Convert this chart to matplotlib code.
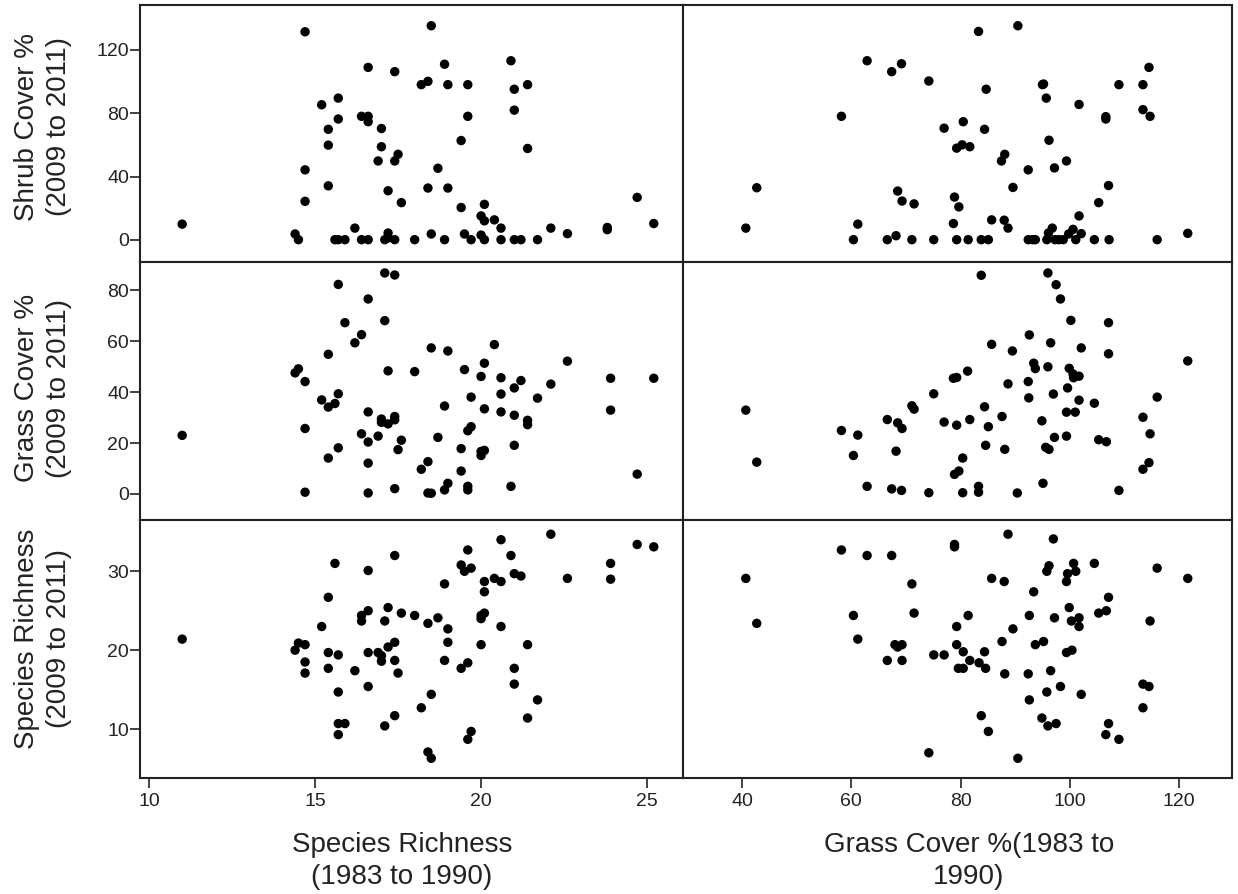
import matplotlib
matplotlib.use("Agg")
import matplotlib.pyplot as plt

plt.rcParams["font.family"] = ["Liberation Sans", "DejaVu Sans"]

# Shrub cover (2009-2011) vs species richness (1983-1990)
shrub_rich_x = [11.0, 14.7, 18.5, 20.9, 16.6, 17.4, 18.9, 18.2, 18.4, 19.0,
                19.6, 21.4, 21.0, 21.0, 15.2, 15.7, 15.7, 16.4, 16.6, 16.6,
                19.6, 15.4, 17.0, 15.4, 17.0, 19.4, 21.4, 17.5, 17.4, 16.9,
                14.7, 18.7, 15.4, 18.4, 19.0, 17.2, 14.7, 17.6, 19.4, 20.1,
                20.0, 20.1, 20.4, 20.6, 16.2, 24.7, 25.2, 23.8, 23.8, 22.1,
                22.6, 14.4, 14.5, 15.6, 15.7, 15.9, 16.4, 16.6, 17.1, 17.2,
                17.2, 17.4, 18.0, 18.5, 18.9, 19.5, 19.7, 20.0, 20.1, 20.6,
                21.0, 21.2, 21.7]
shrub_rich_y = [10.0, 131.5, 135.3, 113.2, 109.0, 106.3, 111.0, 98.1, 100.2, 98.1,
                98.1, 98.1, 95.2, 82.0, 85.4, 89.6, 76.4, 78.1, 78.1, 74.7,
                78.1, 69.9, 70.4, 59.9, 58.9, 62.8, 57.8, 54.1, 49.9, 49.9,
                44.3, 45.3, 34.2, 32.8, 32.8, 31.1, 24.4, 23.6, 20.5, 22.5,
                15.2, 12.1, 12.7, 7.5, 7.5, 26.9, 10.4, 7.9, 6.5, 7.5,
                4.0, 3.8, 0.2, 0.2, 0.2, 0.2, 0.2, 0.2, 0.2, 4.4,
                1.3, 0.2, 0.2, 3.8, 0.2, 3.8, 0.2, 3.1, 0.2, 0.2,
                0.2, 0.2, 0.2]

# Shrub cover (2009-2011) vs grass cover (1983-1990)
shrub_grass_x = [90.5, 83.3, 62.9, 69.2, 67.4, 74.2, 114.5, 84.7, 95.0, 95.2,
                 109.0, 113.4, 95.7, 101.7, 113.4, 114.7, 106.6, 106.6, 58.2, 80.5,
                 77.0, 84.4, 96.2, 79.3, 80.3, 81.7, 88.1, 87.5, 99.4, 97.2,
                 92.4, 89.6, 107.1, 42.7, 68.5, 69.3, 71.5, 78.9, 79.7, 105.3,
                 101.7, 40.7, 61.2, 78.7, 85.7, 88.0, 88.7, 96.8, 96.1, 100.6,
                 102.1, 99.8, 68.2, 121.6,
                 60.4, 66.6, 71.1, 75.1, 79.3, 81.4, 83.8, 85.1, 92.4, 93.2,
                 93.7, 95.8, 97.3, 98.0, 98.8, 101.1, 104.5, 107.2, 116.0]
shrub_grass_y = [135.3, 131.7, 113.2, 111.3, 106.3, 100.4, 109.0, 95.2, 98.1, 98.5,
                 98.1, 98.1, 89.6, 85.6, 82.3, 78.1, 77.9, 76.4, 78.1, 74.7,
                 70.6, 69.9, 63.0, 58.0, 60.1, 58.9, 54.1, 49.9, 49.9, 45.5,
                 44.3, 33.2, 34.4, 33.0, 30.9, 24.6, 22.8, 27.1, 20.9, 23.6,
                 15.2, 7.5, 10.0, 10.4, 12.7, 12.5, 7.5, 7.5, 4.4, 6.7,
                 4.0, 3.8, 2.7, 4.2,
                 0.2, 0.2, 0.2, 0.2, 0.2, 0.2, 0.2, 0.2, 0.2, 0.2,
                 0.2, 0.2, 0.2, 0.2, 0.2, 0.2, 0.2, 0.2, 0.2]

# Grass cover (2009-2011) vs species richness (1983-1990)
grass_rich_x = [11.0, 17.1, 17.4, 15.7, 16.6, 17.1, 15.9, 16.4, 16.2, 15.4,
                18.5, 19.0, 20.4, 20.1, 22.6, 14.4, 14.5, 17.2, 18.0, 19.5,
                14.7, 20.0, 20.6, 21.2, 23.9, 25.2, 22.1, 21.0, 15.7, 20.6,
                19.7, 21.7, 15.2, 15.4, 15.6, 18.9, 20.1, 20.6, 23.9, 16.6,
                21.0, 21.4, 21.4, 17.4, 17.4, 17.0, 17.0, 17.2, 19.7, 19.6,
                14.7, 16.4, 16.9, 18.7, 17.6, 16.6, 21.0, 15.7, 17.5, 19.4,
                20.0, 20.1, 20.0, 15.4, 16.6, 18.4, 18.2, 19.4, 24.7, 19.0,
                18.9, 19.6, 19.6, 20.9, 17.4, 14.7, 16.6, 18.4, 18.5]
grass_rich_y = [23.0, 86.7, 85.9, 82.2, 76.5, 68.0, 67.2, 62.5, 59.3, 54.8,
                57.3, 56.1, 58.6, 51.3, 52.1, 47.5, 49.1, 48.3, 48.0, 48.8,
                44.1, 46.1, 45.6, 44.5, 45.4, 45.4, 43.1, 41.6, 39.3, 39.2,
                38.0, 37.6, 36.9, 34.1, 35.5, 34.5, 33.4, 32.2, 32.9, 32.2,
                30.9, 28.9, 27.2, 30.4, 29.1, 29.4, 28.1, 27.5, 26.4, 24.8,
                25.7, 23.6, 22.7, 22.2, 21.1, 20.4, 19.1, 18.1, 17.4, 17.8,
                16.7, 17.1, 15.1, 14.1, 12.1, 12.7, 9.7, 9.0, 7.8, 4.2,
                1.6, 3.0, 1.6, 3.0, 2.1, 0.7, 0.4, 0.4, 0.3]

# Grass cover (2009-2011) vs grass cover (1983-1990)
grass_grass_x = [83.8, 96.0, 97.5, 98.3, 100.2, 107.1, 92.6, 96.5, 85.7, 89.5,
                 102.1, 107.1, 121.6, 93.4, 93.7, 96.0, 99.9, 100.6, 101.7, 100.7,
                 81.3, 78.7, 79.3, 92.4, 88.7, 99.6, 75.1, 97.0, 92.5, 101.7,
                 104.5, 116.0, 71.1, 71.5, 84.4, 99.4, 101.0, 113.4, 40.7, 87.6,
                 66.6, 68.5, 69.3, 77.0, 79.3, 81.7, 85.1, 94.9, 58.2, 61.2,
                 97.2, 99.4, 105.3, 106.7, 114.7, 84.6, 88.1, 95.6, 96.2, 60.4,
                 68.2, 80.4, 42.7, 114.5, 113.4, 78.9, 79.7, 95.1, 62.9, 67.4,
                 69.2, 74.2, 80.4, 83.3, 83.3, 90.4, 109.0]
grass_grass_y = [85.8, 86.7, 82.1, 76.5, 68.1, 67.2, 62.4, 59.3, 58.7, 56.1,
                 57.3, 55.0, 52.2, 51.3, 49.2, 49.9, 49.3, 47.1, 46.2, 45.6,
                 48.2, 45.4, 45.7, 44.1, 43.2, 41.6, 39.3, 39.2, 37.7, 36.8,
                 35.6, 38.0, 34.6, 33.3, 34.2, 32.1, 32.1, 30.1, 32.9, 30.4,
                 29.2, 27.9, 25.7, 28.2, 27.0, 29.2, 26.4, 28.7, 24.9, 23.1,
                 22.2, 22.7, 21.3, 20.5, 23.6, 19.1, 17.5, 18.3, 17.5, 15.1,
                 16.8, 14.1, 12.5, 12.3, 9.7, 7.7, 9.0, 4.2, 3.0, 2.0,
                 1.4, 0.5, 0.5, 3.0, 0.7, 0.4, 1.4]

# Species richness (2009-2011) vs species richness (1983-1990)
rich_rich_x = [11.0, 22.1, 20.6, 24.7, 25.2, 19.6, 17.4, 20.9, 15.6, 23.9,
               19.4, 19.5, 19.7, 16.6, 21.0, 21.2, 20.4, 22.6, 23.9, 20.1,
               20.6, 18.9, 20.1, 15.4, 17.2, 16.6, 17.6, 20.1, 20.0, 20.0,
               18.0, 16.4, 16.4, 18.7, 17.1, 18.4, 15.2, 20.6, 19.0, 17.4,
               17.2, 19.0, 14.5, 14.7, 14.4, 20.0, 21.4, 15.4, 15.7, 16.6,
               16.9, 17.0, 17.0, 17.4, 14.7, 18.9, 19.6, 15.4, 19.4, 21.0,
               16.2, 14.7, 17.5, 21.0, 16.6, 15.7, 18.5, 21.7, 18.2, 17.4,
               21.4, 15.7, 15.9, 17.1, 15.7, 19.7, 19.6, 18.4, 18.5]
rich_rich_y = [21.4, 34.7, 34.0, 33.4, 33.1, 32.7, 32.0, 32.0, 31.0, 31.0,
               30.8, 30.0, 30.4, 30.1, 29.7, 29.4, 29.1, 29.1, 29.0, 28.7,
               28.7, 28.4, 27.4, 26.7, 25.4, 25.0, 24.7, 24.7, 24.4, 24.0,
               24.4, 24.4, 23.7, 24.1, 23.7, 23.4, 23.0, 23.0, 22.7, 21.0,
               20.4, 21.0, 20.9, 20.7, 20.0, 20.7, 20.7, 19.7, 19.4, 19.7,
               19.7, 19.3, 18.6, 18.7, 18.5, 18.7, 18.4, 17.7, 17.7, 17.7,
               17.4, 17.1, 17.1, 15.7, 15.4, 14.7, 14.4, 13.7, 12.7, 11.7,
               11.4, 10.7, 10.7, 10.4, 9.3, 9.7, 8.7, 7.1, 6.3]

# Species richness (2009-2011) vs grass cover (1983-1990)
rich_grass_x = [88.7, 97.0, 58.2, 62.9, 67.4, 78.9, 78.9, 100.7, 104.5, 96.2,
                95.8, 99.6, 101.1, 99.4, 116.0, 40.7, 121.6, 85.7, 88.0, 71.1,
                93.4, 107.1, 105.3, 106.7, 99.9, 60.4, 71.5, 81.4, 92.6, 97.2,
                100.3, 101.7, 101.7, 114.7, 42.7, 79.3, 89.6, 61.2, 68.0, 68.5,
                69.3, 79.3, 87.6, 93.7, 95.2, 80.5, 84.4, 75.1, 77.0, 99.4,
                100.4, 66.6, 69.3, 81.7, 83.4, 79.6, 80.5, 84.6, 88.1, 92.4,
                96.5, 98.3, 95.8, 102.1, 113.4, 114.5, 92.6, 113.4, 83.8, 94.9,
                96.0, 97.5, 107.1, 85.1, 106.6, 109.0, 74.2, 90.5]
rich_grass_y = [34.7, 34.1, 32.7, 32.0, 32.0, 33.4, 33.1, 31.0, 31.0, 30.7,
                30.0, 29.7, 30.0, 28.7, 30.4, 29.1, 29.1, 29.1, 28.7, 28.4,
                27.4, 26.7, 24.7, 25.0, 25.4, 24.4, 24.7, 24.4, 24.4, 24.1,
                23.7, 24.1, 23.0, 23.7, 23.4, 23.0, 22.7, 21.4, 20.7, 20.4,
                20.7, 20.7, 21.1, 20.7, 21.1, 19.8, 19.8, 19.4, 19.4, 19.7,
                20.0, 18.7, 18.7, 18.7, 18.4, 17.7, 17.7, 17.7, 17.0, 17.0,
                17.4, 15.4, 14.7, 14.4, 15.7, 15.4, 13.7, 12.7, 11.7, 11.4,
                10.4, 10.7, 10.7, 9.7, 9.3, 8.7, 7.0, 6.3]

row_labels = ["Shrub Cover %\n(2009 to 2011)",
              "Grass Cover %\n(2009 to 2011)",
              "Species Richness\n(2009 to 2011)"]
col_labels = ["Species Richness\n(1983 to 1990)",
              "Grass Cover %(1983 to\n1990)"]
row_ticks = [[0, 40, 80, 120], [0, 20, 40, 60, 80], [10, 20, 30]]
col_ticks = [[10, 15, 20, 25], [40, 60, 80, 100, 120]]

panels = [
    [(shrub_rich_x, shrub_rich_y), (shrub_grass_x, shrub_grass_y)],
    [(grass_rich_x, grass_rich_y), (grass_grass_x, grass_grass_y)],
    [(rich_rich_x, rich_rich_y), (rich_grass_x, rich_grass_y)],
]

W, H = 1238, 894
fig = plt.figure(figsize=(W / 100, H / 100), dpi=100)

col_edges = [140, 683, 1232]
row_edges = [5, 262, 520, 778]
col_lims = [(9.73, 26.08), (29.2, 129.7)]
row_lims = [(-13.9, 148.4), (-10.2, 91.0), (3.8, 36.5)]

for r in range(3):
    for c in range(2):
        x0, x1 = col_edges[c], col_edges[c + 1]
        y0, y1 = row_edges[r], row_edges[r + 1]
        ax = fig.add_axes([x0 / W, 1 - y1 / H, (x1 - x0) / W, (y1 - y0) / H])
        xs, ys = panels[r][c]
        ax.scatter(xs, ys, s=46, color="black", edgecolors="none", zorder=3)
        ax.set_xlim(*col_lims[c])
        ax.set_ylim(*row_lims[r])
        for sp in ax.spines.values():
            sp.set_linewidth(1.5)
            sp.set_color("#222222")
        ax.tick_params(direction="out", length=7, width=1.2, labelsize=14,
                       colors="#222222")
        ax.tick_params(axis="y", pad=1)
        ax.tick_params(axis="x", pad=4)
        if c == 0:
            ax.set_yticks(row_ticks[r])
        else:
            ax.set_yticks([])
        if r == 2:
            ax.set_xticks(col_ticks[c])
        else:
            ax.set_xticks([])

# row labels on the left
row_centers = [127, 388, 639]
for lab, yc in zip(row_labels, row_centers):
    fig.text(43 / W, 1 - yc / H, lab, rotation=90, ha="center", va="center",
             fontsize=20, color="#222222", linespacing=1.25)

# column labels at the bottom
col_centers = [402, 969]
for lab, xc in zip(col_labels, col_centers):
    fig.text(xc / W, 1 - 861 / H, lab, ha="center", va="center",
             fontsize=20, color="#222222", linespacing=1.25)

fig.savefig("out.png", dpi=100)
